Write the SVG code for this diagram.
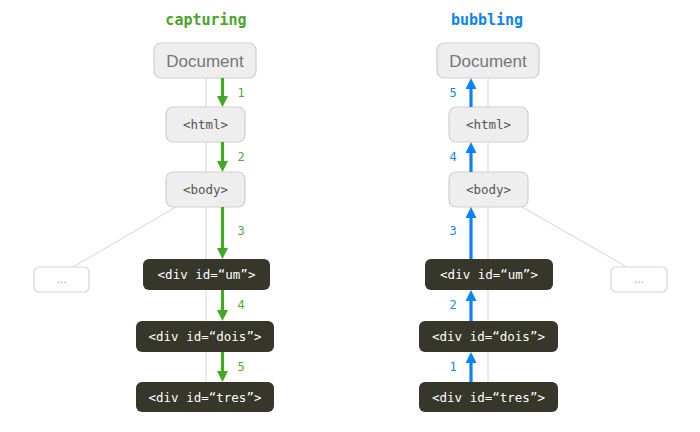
<svg xmlns="http://www.w3.org/2000/svg" width="700" height="432" viewBox="0 0 700 432">
<defs>
<style>
.title{font-family:"DejaVu Sans Mono",monospace;font-weight:bold;font-size:15px;text-anchor:middle}
.light rect{fill:#eeeeee;stroke:#cfcfcf;stroke-width:1.2}
.light text{font-family:"DejaVu Sans Mono",monospace;font-size:12.5px;fill:#555;text-anchor:middle}
.doc text{font-family:"Liberation Sans",Arial,sans-serif;font-size:17px;fill:#777;text-anchor:middle}
.dark rect{fill:#36362a}
.dark text{font-family:"DejaVu Sans Mono",monospace;font-size:12.5px;fill:#ffffff;text-anchor:middle}
.more rect{fill:#ffffff;stroke:#d6d6d6;stroke-width:1.2}
.more text{font-family:"Liberation Sans",Arial,sans-serif;font-size:12px;fill:#aaa;text-anchor:middle}
.tree{stroke:#d4d4d4;stroke-width:1;fill:none}
.g{stroke:#45a823;stroke-width:3.2;marker-end:url(#ag)}
.b{stroke:#0b84f2;stroke-width:3.2;marker-end:url(#ab)}
.gl{font-family:"DejaVu Sans Mono",monospace;font-size:12px;fill:#5ba83a;text-anchor:middle}
.bl{font-family:"DejaVu Sans Mono",monospace;font-size:12px;fill:#1a88ee;text-anchor:middle}
</style>
<marker id="ag" markerUnits="userSpaceOnUse" markerWidth="12" markerHeight="12" refX="2" refY="5.5" orient="auto"><path d="M0,0 L11,5.5 L0,11 z" fill="#45a823"/></marker>
<marker id="ab" markerUnits="userSpaceOnUse" markerWidth="12" markerHeight="12" refX="2" refY="5.5" orient="auto"><path d="M0,0 L11,5.5 L0,11 z" fill="#0b84f2"/></marker>
</defs>
<rect width="700" height="432" fill="#ffffff"/>
<text class="title" x="206" y="25" fill="#4aa52a">capturing</text>
<text class="title" x="487" y="25" fill="#0b84f2">bubbling</text>
<g id="tree-lines">
<line class="tree" x1="206" y1="78" x2="206" y2="382"/>
<line class="tree" x1="176" y1="207" x2="73" y2="267"/>
<line class="tree" x1="488" y1="78" x2="488" y2="382"/>
<line class="tree" x1="522" y1="207" x2="627" y2="267"/>
</g>
<g id="L-document" class="light doc"><rect x="154" y="43" width="102" height="35" rx="7"/><text x="205" y="66.5">Document</text></g>
<g id="L-html" class="light"><rect x="166" y="107" width="79" height="35" rx="7"/><text x="205.5" y="129">&lt;html&gt;</text></g>
<g id="L-body" class="light"><rect x="166" y="172" width="79" height="35" rx="7"/><text x="205.5" y="194">&lt;body&gt;</text></g>
<g id="L-more" class="more"><rect x="34" y="267" width="55" height="25" rx="5"/><text x="61.5" y="283">...</text></g>
<g id="L-um" class="dark"><rect x="143" y="259" width="127" height="31" rx="6"/><text x="206.5" y="279">&lt;div id=“um”&gt;</text></g>
<g id="L-dois" class="dark"><rect x="136" y="321" width="138" height="31" rx="6"/><text x="205" y="341">&lt;div id=“dois”&gt;</text></g>
<g id="L-tres" class="dark"><rect x="136" y="382" width="138" height="30" rx="6"/><text x="205" y="402">&lt;div id=“tres”&gt;</text></g>
<g id="R-document" class="light doc"><rect x="437" y="43" width="102" height="35" rx="7"/><text x="488" y="66.5">Document</text></g>
<g id="R-html" class="light"><rect x="449" y="107" width="79" height="35" rx="7"/><text x="488.5" y="129">&lt;html&gt;</text></g>
<g id="R-body" class="light"><rect x="449" y="172" width="79" height="35" rx="7"/><text x="488.5" y="194">&lt;body&gt;</text></g>
<g id="R-more" class="more"><rect x="611" y="267" width="56" height="25" rx="5"/><text x="639" y="283">...</text></g>
<g id="R-um" class="dark"><rect x="425" y="259" width="128" height="31" rx="6"/><text x="489" y="279">&lt;div id=“um”&gt;</text></g>
<g id="R-dois" class="dark"><rect x="419" y="321" width="139" height="31" rx="6"/><text x="488.5" y="341">&lt;div id=“dois”&gt;</text></g>
<g id="R-tres" class="dark"><rect x="419" y="382" width="139" height="30" rx="6"/><text x="488.5" y="402">&lt;div id=“tres”&gt;</text></g>
<g id="connectors">
<line class="g" x1="222.5" y1="78" x2="222.5" y2="98"/>
<line class="g" x1="222.5" y1="142" x2="222.5" y2="163"/>
<line class="g" x1="222.5" y1="207" x2="222.5" y2="250"/>
<line class="g" x1="222.5" y1="290" x2="222.5" y2="312"/>
<line class="g" x1="222.5" y1="352" x2="222.5" y2="373"/>
<line class="b" x1="471" y1="382" x2="471" y2="361"/>
<line class="b" x1="471" y1="321" x2="471" y2="299"/>
<line class="b" x1="471" y1="259" x2="471" y2="216"/>
<line class="b" x1="471" y1="172" x2="471" y2="151"/>
<line class="b" x1="471" y1="107" x2="471" y2="87"/>
</g>
<g id="labels">
<text class="gl" x="241" y="97">1</text>
<text class="gl" x="241" y="161">2</text>
<text class="gl" x="241" y="235">3</text>
<text class="gl" x="241" y="309">4</text>
<text class="gl" x="241" y="371">5</text>
<text class="bl" x="453" y="371">1</text>
<text class="bl" x="453" y="309">2</text>
<text class="bl" x="453" y="235">3</text>
<text class="bl" x="453" y="161">4</text>
<text class="bl" x="453" y="97">5</text>
</g>
</svg>
